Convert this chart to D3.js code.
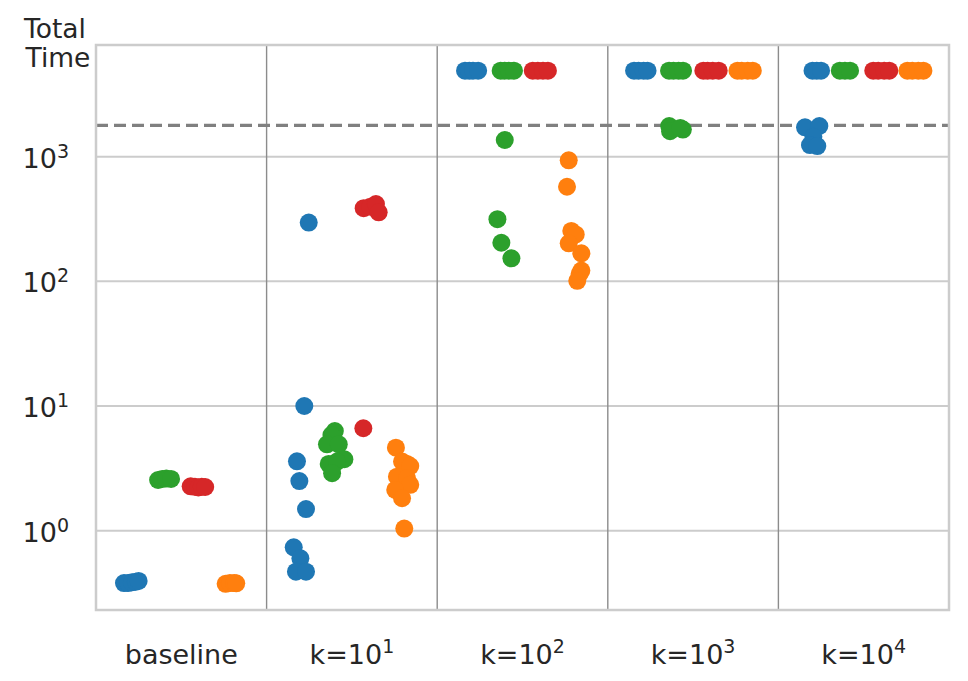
<!DOCTYPE html>
<html>
<head>
<meta charset="utf-8">
<script src="https://cdn.jsdelivr.net/npm/d3@7"></script>
<style>
  body { margin: 0; background: #fff; }
  text { font-family: "DejaVu Sans", sans-serif; fill: #262626; }
</style>
</head>
<body>
<div id="chart"></div>
<script>
// --- Data ---
const categories = ["baseline", "k=10^1", "k=10^2", "k=10^3", "k=10^4"];
const hueNames = ["blue", "green", "red", "orange"];
const hueColors = ["#1f77b4", "#2ca02c", "#d62728", "#ff7f0e"];
const yTicks = [1, 10, 100, 1000];
const timeLimit = 1780;

// each point: [category index, total time, jitter (in category units)]
const bluePoints = [
    [0, 0.38, -0.036], [0, 0.38, -0.012], [0, 0.385, 0.011], [0, 0.39, 0.034], [0, 0.395, 0.05],
    [1, 10, 0.021], [1, 3.6, -0.022], [1, 2.5, -0.008], [1, 1.49, 0.031], [1, 0.736, -0.041],
    [1, 0.60, -0.002], [1, 0.469, -0.028], [1, 0.469, 0.031], [1, 296, 0.047],
    [2, 4900, -0.037], [2, 4900, -0.012], [2, 4900, 0.01], [2, 4900, 0.04],
    [3, 4900, -0.046], [3, 4900, -0.02], [3, 4900, 0.01], [3, 4900, 0.033],
    [4, 4900, 0.0], [4, 4900, 0.025], [4, 4900, 0.05],
    [4, 1720, -0.044], [4, 1763, 0.04], [4, 1445, 0.005], [4, 1240, -0.015], [4, 1217, 0.028]
];
const greenPoints = [
    [0, 2.55, -0.036], [0, 2.6, -0.012], [0, 2.62, 0.012], [0, 2.6, 0.04],
    [1, 6.3, 0.0], [1, 5.85, -0.02], [1, 4.93, -0.046], [1, 4.93, 0.023], [1, 3.74, 0.056],
    [1, 3.43, -0.036], [1, 3.58, 0.013], [1, 2.89, -0.016],
    [2, 4900, -0.028], [2, 4900, -0.005], [2, 4900, 0.02], [2, 4900, 0.05],
    [2, 1361, -0.004], [2, 315, -0.047], [2, 204, -0.024], [2, 153, 0.035],
    [3, 4900, -0.041], [3, 4900, -0.015], [3, 4900, 0.015], [3, 4900, 0.041],
    [3, 1760, -0.04], [3, 1600, -0.035], [3, 1650, 0.04], [3, 1700, 0.025],
    [4, 4900, -0.04], [4, 4900, -0.01], [4, 4900, 0.02]
];
const redPoints = [
    [0, 2.27, -0.045], [0, 2.25, -0.02], [0, 2.22, 0.0], [0, 2.25, 0.02], [0, 2.24, 0.04],
    [1, 6.63, -0.033], [1, 386, -0.031], [1, 397, 0.008], [1, 417, 0.041], [1, 358, 0.057],
    [2, 4900, -0.04], [2, 4900, -0.01], [2, 4900, 0.02], [2, 4900, 0.049],
    [3, 4900, -0.04], [3, 4900, -0.015], [3, 4900, 0.015], [3, 4900, 0.05],
    [4, 4900, -0.044], [4, 4900, -0.015], [4, 4900, 0.02], [4, 4900, 0.05]
];
const orangePoints = [
    [0, 0.375, -0.04], [0, 0.38, -0.015], [0, 0.38, 0.01], [0, 0.378, 0.022],
    [1, 4.63, -0.042], [1, 3.43, 0.023], [1, 3.58, -0.006], [1, 3.30, 0.042], [1, 2.71, -0.036],
    [1, 2.63, 0.023], [1, 2.33, 0.042], [1, 2.12, -0.046], [1, 1.82, -0.006], [1, 1.04, 0.007],
    [2, 935, -0.029], [2, 574, -0.039], [2, 254, -0.014], [2, 238, 0.012], [2, 202, -0.029],
    [2, 168, 0.045], [2, 122, 0.045], [2, 115, 0.035], [2, 101, 0.021],
    [3, 4900, -0.04], [3, 4900, -0.015], [3, 4900, 0.02], [3, 4900, 0.05],
    [4, 4900, -0.044], [4, 4900, -0.015], [4, 4900, 0.02], [4, 4900, 0.05]
];
const seriesPoints = [bluePoints, greenPoints, redPoints, orangePoints];

// --- Rendering ---
const width = 968, height = 681;
const margin = { top: 45, right: 19, bottom: 71, left: 96 };

const svg = d3.select("#chart")
    .append("svg")
    .attr("width", width)
    .attr("height", height);

const x = d3.scaleBand()
    .domain(d3.range(categories.length))
    .range([margin.left, width - margin.right]);

const hueScale = d3.scaleBand()
    .domain(hueNames)
    .range([0, x.bandwidth() * 0.8]);

const y = d3.scaleLog()
    .domain([0.231, 7870])
    .range([height - margin.bottom, margin.top]);

const plotLeft = margin.left, plotRight = width - margin.right;
const plotTop = margin.top, plotBottom = height - margin.bottom;

// horizontal grid
svg.append("g")
    .selectAll("line")
    .data(yTicks)
    .join("line")
    .attr("x1", plotLeft).attr("x2", plotRight)
    .attr("y1", d => y(d)).attr("y2", d => y(d))
    .attr("stroke", "#cccccc")
    .attr("stroke-width", 2);

// category separators
svg.append("g")
    .selectAll("line")
    .data(d3.range(1, categories.length))
    .join("line")
    .attr("x1", d => x(d)).attr("x2", d => x(d))
    .attr("y1", plotTop).attr("y2", plotBottom)
    .attr("stroke", "#8c8c8c")
    .attr("stroke-width", 1.4);

// time limit
svg.append("line")
    .attr("x1", plotLeft).attr("x2", plotRight)
    .attr("y1", y(timeLimit)).attr("y2", y(timeLimit))
    .attr("stroke", "#808080")
    .attr("stroke-width", 3.3)
    .attr("stroke-dasharray", "12,6");

// points
seriesPoints.forEach((points, i) => {
    const hue = hueNames[i];
    svg.append("g")
        .selectAll("circle")
        .data(points)
        .join("circle")
        .attr("cx", d => x(d[0]) + x.bandwidth() * 0.1 + hueScale(hue) + hueScale.bandwidth() / 2 + d[2] * x.bandwidth())
        .attr("cy", d => y(d[1]))
        .attr("r", 9)
        .attr("fill", hueColors[i]);
});

// frame
svg.append("rect")
    .attr("x", plotLeft).attr("y", plotTop)
    .attr("width", plotRight - plotLeft)
    .attr("height", plotBottom - plotTop)
    .attr("fill", "none")
    .attr("stroke", "#cccccc")
    .attr("stroke-width", 2.5);

// y tick labels, 10^n
const yLabels = svg.append("g")
    .selectAll("text")
    .data(yTicks)
    .join("text")
    .attr("x", 69)
    .attr("y", d => y(d) + 11)
    .attr("text-anchor", "end")
    .style("font-size", "27px");
yLabels.append("tspan").text("10");
yLabels.append("tspan")
    .attr("dy", -10)
    .style("font-size", "19px")
    .text(d => Math.round(Math.log10(d)));

// x tick labels
const xLabels = svg.append("g")
    .selectAll("text")
    .data(categories)
    .join("text")
    .attr("x", (d, i) => x(i) + x.bandwidth() / 2)
    .attr("y", 664)
    .attr("text-anchor", "middle")
    .style("font-size", "27px");
xLabels.each(function(d) {
    const t = d3.select(this);
    const parts = d.split("^");
    t.append("tspan").text(parts[0]);
    if (parts[1]) {
        t.append("tspan")
            .attr("dy", -11)
            .style("font-size", "19px")
            .text(parts[1]);
    }
});

// y axis title
const title = svg.append("text")
    .attr("text-anchor", "middle")
    .style("font-size", "26.5px");
title.append("tspan").attr("x", 55).attr("y", 38).text("Total");
title.append("tspan").attr("x", 58).attr("y", 66.5).text("Time");
</script>
</body>
</html>
